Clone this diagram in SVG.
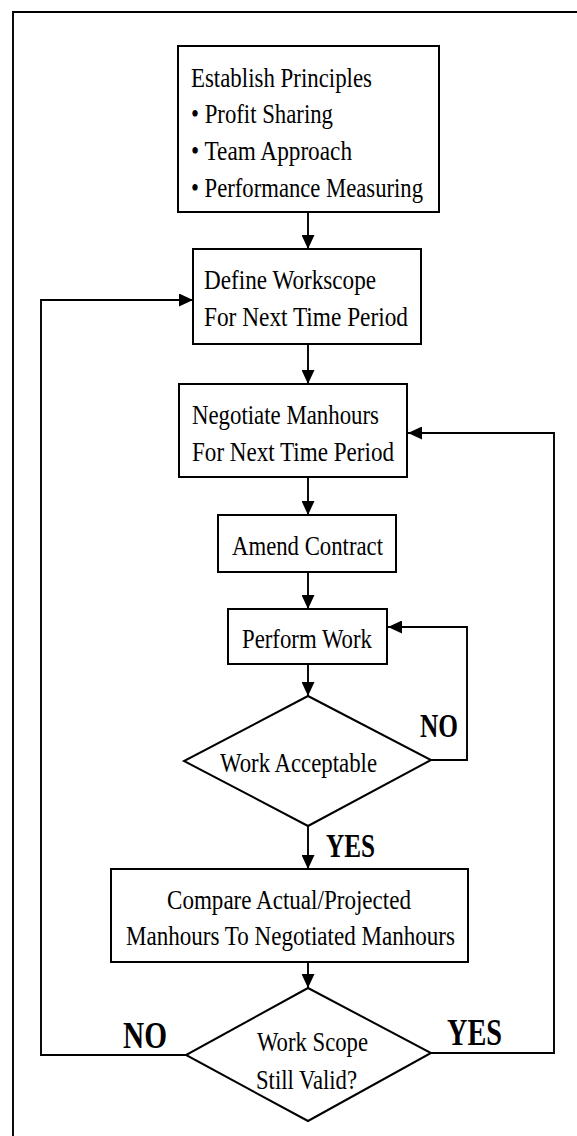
<svg xmlns="http://www.w3.org/2000/svg" width="577" height="1136" viewBox="0 0 577 1136">
<style>
  .box { fill: #fff; stroke: #000; stroke-width: 2; }
  .ln { fill: none; stroke: #000; stroke-width: 1.9; }
  .t { font-family: "Liberation Serif", "Times New Roman", serif; font-size: 28px; fill: #000; }
  .b { font-family: "Liberation Serif", "Times New Roman", serif; font-weight: bold; fill: #000; }
</style>
<defs>
  <marker id="arr" markerUnits="userSpaceOnUse" markerWidth="14" markerHeight="13" refX="14" refY="6.5" orient="auto">
    <path d="M0,0 L14,6.5 L0,13 z" fill="#000"/>
  </marker>
</defs>
<rect width="577" height="1136" fill="#fff"/>
<path class="ln" d="M13,1136 V12 H577" stroke-width="2.4"/>
<g id="connectors">
  <path class="ln" d="M308,212 V249" marker-end="url(#arr)"/>
  <path class="ln" d="M308,344 V384" marker-end="url(#arr)"/>
  <path class="ln" d="M308,477 V515" marker-end="url(#arr)"/>
  <path class="ln" d="M308,572 V609" marker-end="url(#arr)"/>
  <path class="ln" d="M308,664 V696" marker-end="url(#arr)"/>
  <path class="ln" d="M308,826 V869" marker-end="url(#arr)"/>
  <path class="ln" d="M308,963 V988" marker-end="url(#arr)"/>
  <path class="ln" d="M431,760 H467 V627 H388" marker-end="url(#arr)"/>
  <path class="ln" d="M186,1055 H41 V300 H193" marker-end="url(#arr)"/>
  <path class="ln" d="M431,1053 H554 V433 H408" marker-end="url(#arr)"/>
</g>
<g id="principles">
  <rect class="box" x="178" y="46" width="261" height="166"/>
  <text class="t" x="191" y="87" textLength="181" lengthAdjust="spacingAndGlyphs">Establish Principles</text>
  <text class="t" x="191" y="123" textLength="142" lengthAdjust="spacingAndGlyphs">• Profit Sharing</text>
  <text class="t" x="191" y="160" textLength="161" lengthAdjust="spacingAndGlyphs">• Team Approach</text>
  <text class="t" x="191" y="197" textLength="232" lengthAdjust="spacingAndGlyphs">• Performance Measuring</text>
</g>
<g id="workscope">
  <rect class="box" x="193" y="249" width="228" height="95"/>
  <text class="t" x="204" y="289" textLength="172" lengthAdjust="spacingAndGlyphs">Define Workscope</text>
  <text class="t" x="204" y="326" textLength="204" lengthAdjust="spacingAndGlyphs">For Next Time Period</text>
</g>
<g id="negotiate">
  <rect class="box" x="179" y="384" width="228" height="93"/>
  <text class="t" x="192" y="424" textLength="187" lengthAdjust="spacingAndGlyphs">Negotiate Manhours</text>
  <text class="t" x="192" y="461" textLength="202" lengthAdjust="spacingAndGlyphs">For Next Time Period</text>
</g>
<g id="amend">
  <rect class="box" x="218" y="515" width="178" height="57"/>
  <text class="t" x="232" y="555" textLength="151" lengthAdjust="spacingAndGlyphs">Amend Contract</text>
</g>
<g id="perform">
  <rect class="box" x="228" y="609" width="159" height="55"/>
  <text class="t" x="242" y="648" textLength="130" lengthAdjust="spacingAndGlyphs">Perform Work</text>
</g>
<g id="acceptable">
  <polygon class="box" points="308,696 431,760 308,826 184,761"/>
  <text class="t" x="220" y="772" textLength="157" lengthAdjust="spacingAndGlyphs">Work Acceptable</text>
  <text class="b" x="420" y="737" font-size="33" textLength="38" lengthAdjust="spacingAndGlyphs">NO</text>
  <text class="b" x="326" y="857" font-size="34" textLength="49" lengthAdjust="spacingAndGlyphs">YES</text>
</g>
<g id="compare">
  <rect class="box" x="111" y="869" width="357" height="93"/>
  <text class="t" x="167" y="909" textLength="244" lengthAdjust="spacingAndGlyphs">Compare Actual/Projected</text>
  <text class="t" x="126" y="945" textLength="329" lengthAdjust="spacingAndGlyphs">Manhours To Negotiated Manhours</text>
</g>
<g id="valid">
  <polygon class="box" points="308,988 431,1053 308,1121 186,1055"/>
  <text class="t" x="257" y="1051" textLength="111" lengthAdjust="spacingAndGlyphs">Work Scope</text>
  <text class="t" x="256" y="1089" textLength="101" lengthAdjust="spacingAndGlyphs">Still Valid?</text>
  <text class="b" x="123" y="1048" font-size="38" textLength="44" lengthAdjust="spacingAndGlyphs">NO</text>
  <text class="b" x="447" y="1045" font-size="38" textLength="55" lengthAdjust="spacingAndGlyphs">YES</text>
</g>
</svg>
